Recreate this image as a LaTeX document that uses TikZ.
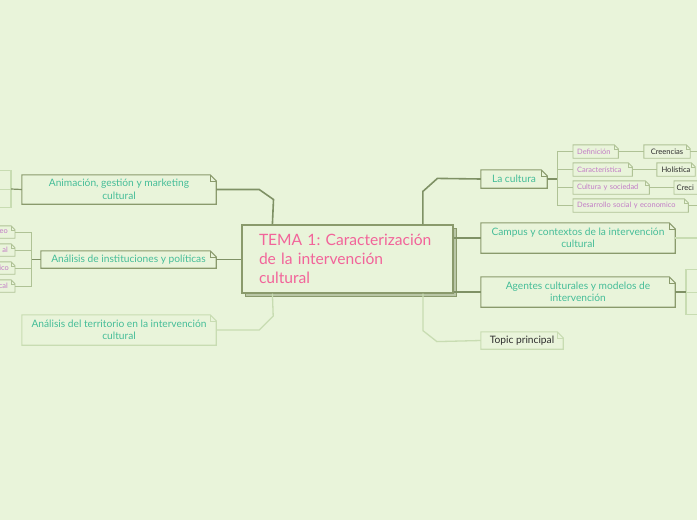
\documentclass[tikz,border=0pt]{standalone}
\usepackage{fontspec}
\setmainfont{Lato}
\frenchspacing
\usetikzlibrary{calc,shadows}
\definecolor{bg}{HTML}{E9F4DA}
\definecolor{olive}{HTML}{8A9A6C}
\definecolor{darkline}{HTML}{7F9165}
\definecolor{fadeline}{HTML}{C8DCB2}
\definecolor{subline}{HTML}{AFC295}
\definecolor{tealc}{HTML}{45BD98}
\definecolor{pinkc}{HTML}{F2649A}
\definecolor{purpc}{HTML}{C27CC6}
\definecolor{darkc}{HTML}{2E2E2E}
\definecolor{shadowc}{HTML}{B9C6A6}
\newcommand{\dogear}[3]{%
  \draw[#1] (#2.north west) -- ($(#2.north east)+(-#3,0)$) -- ($(#2.north east)+(0,-#3)$) -- (#2.south east) -- (#2.south west) -- cycle;
  \draw[#1,line width=0.5pt] ($(#2.north east)+(-#3,0)$) -- ($(#2.north east)+(-#3,-#3)$) -- ($(#2.north east)+(0,-#3)$);}
\tikzset{
  branch/.style={inner sep=0pt, text=tealc, align=center, font=\fontsize{10.2}{12.5}\selectfont},
  subn/.style={inner sep=0pt, text=purpc, minimum height=13pt, anchor=west, align=left, font=\fontsize{7.4}{8}\selectfont},
  leafn/.style={inner sep=0pt, text=darkc, minimum height=13pt, font=\fontsize{7.6}{8}\selectfont},
  bbox/.style={draw=olive, line width=1.1pt, line join=miter},
  fbox/.style={draw=fadeline, line width=1.1pt},
  sbox/.style={draw=subline, line width=0.9pt},
  conn/.style={draw=darkline, line width=1.6pt},
  fconn/.style={draw=fadeline, line width=1.3pt},
  bconn/.style={draw=subline, line width=1pt},
}
\begin{document}
\begin{tikzpicture}[x=1pt,y=1pt]
\useasboundingbox (0,0) rectangle (697,-520);
\fill[bg] (0,0) rectangle (697,-520);
\clip (0,0) rectangle (697,-520);

% central node
\node[draw=olive, line width=1.2pt, fill=bg, minimum width=211pt, minimum height=68pt,
      text width=177pt, inner xsep=17pt, inner ysep=0pt, align=left, text=pinkc,
      font=\fontsize{15.6}{19}\selectfont,
      copy shadow={shadow xshift=3pt, shadow yshift=-3pt, fill=shadowc, draw=olive, line width=1pt}]
      (main) at (347.5,-259) {TEMA 1: Caracterización\\de la intervención\\cultural};

% left branches
\node[branch, minimum width=194pt, minimum height=29pt] (anim) at (119,-189.5) {Animación, gestión y marketing\\cultural};
\dogear{bbox}{anim}{6}
\node[branch, minimum width=175pt, minimum height=17pt] (inst) at (128.5,-259.5) {Análisis de instituciones y políticas};
\dogear{bbox}{inst}{6}
\node[branch, minimum width=194pt, minimum height=30pt] (terr) at (119,-330) {Análisis del territorio en la intervención\\cultural};
\dogear{fbox}{terr}{6}

% off-canvas children of Animación
\node[inner sep=0pt, minimum width=40pt, minimum height=36pt, anchor=east] (ach) at (11,-189) {};
\draw[fbox] (ach.north west) rectangle (ach.south east);
\draw[fconn, line width=1pt] (ach.west) -- (ach.east);
\draw[conn, line width=1.2pt] (anim.west) -- (ach.east);

% children of Análisis de instituciones
\node[subn, anchor=east, text width=50pt, align=right, minimum height=12pt] (c1) at (15,-232) {eo\hspace*{7pt}};
\node[subn, anchor=east, text width=50pt, align=right, minimum height=12pt] (c2) at (15,-250) {al\hspace*{7pt}};
\node[subn, anchor=east, text width=50pt, align=right, minimum height=12pt] (c3) at (15,-268) {ico\hspace*{6pt}};
\node[subn, anchor=east, text width=50pt, align=right, minimum height=12pt] (c4) at (15,-286) {cal\hspace*{7pt}};
\foreach \c in {c1,c2,c3,c4}{\dogear{sbox}{\c}{4}}
\coordinate (ib) at (31,-259.5);
\draw[conn] (inst.west) -- (ib);
\foreach \c in {c1,c2,c3,c4}{\draw[bconn] (\c.east) -| (ib);}

% connectors to central
\draw[conn] (anim.east) -- ++(43,0) -- ++(14.3,-10) -- ($(main.north west)+(31,0)$);
\draw[conn] (inst.east) -- (main.west |- inst.east);
\draw[fconn] (terr.east) -- ++(43,0) -- ++(14,14) -- ($(main.south west)+(31,0)$);

% right branches
\node[branch, minimum width=66pt, minimum height=18pt] (cult) at (514,-179) {La cultura};
\dogear{bbox}{cult}{6}
\node[branch, minimum width=194pt, minimum height=30pt] (camp) at (578,-238) {Campus y contextos de la intervención\\cultural};
\dogear{bbox}{camp}{6}
\node[branch, minimum width=194pt, minimum height=30pt] (agen) at (578,-292) {Agentes culturales y modelos de\\intervención};
\dogear{bbox}{agen}{6}
\node[branch, text=darkc, minimum width=82pt, minimum height=17pt] (topic) at (522,-340.5) {Topic principal};
\dogear{fbox}{topic}{6}

\draw[conn] ($(main.north west)+(181.5,0)$) -- ++(0,33) -- ++(14.5,13) -- (cult.west);
\draw[conn] (main.east |- camp.west) -- (camp.west);
\draw[conn] (main.east |- agen.west) -- (agen.west);
\draw[fconn] ($(main.south west)+(181.5,0)$) -- ++(0,-37) -- ++(14,-11) -- (topic.west);

% La cultura children
\node[subn, text width=45pt] (def) at (573,-151.5) {\hspace*{4pt}Definición};
\node[subn, text width=59pt] (car) at (573,-169.5) {\hspace*{4pt}Característica};
\node[subn, text width=76pt] (cys) at (573,-187.5) {\hspace*{4pt}Cultura y sociedad};
\node[subn, text width=115pt] (des) at (573,-205.5) {\hspace*{4pt}Desarrollo social y economico};
\foreach \c in {def,car,cys,des}{\dogear{sbox}{\c}{4}}
\coordinate (cb) at (557,-179);
\draw[conn, line width=1.3pt] (cult.east) -- (cb);
\foreach \c in {def,car,cys,des}{\draw[bconn] (cb) |- (\c.west);}

% leaves
\node[leafn, minimum width=46pt] (cre) at (667,-151.5) {Creencias};
\node[leafn, minimum width=38pt] (hol) at (676,-169.5) {Holística};
\node[leafn, anchor=west, text width=40pt, align=left, inner xsep=0pt] (crec) at (674,-187.5) {\hspace*{2.5pt}Creci};
\foreach \c in {cre,hol,crec}{\dogear{sbox}{\c}{4}}
\draw[bconn] (def.east) -- (cre.west);
\draw[bconn] (car.east) -- (hol.west);
\draw[bconn] (cys.east) -- (crec.west);
\coordinate (creend) at (705,-151.5);
\coordinate (desend) at (705,-205.5);
\draw[bconn] (cre.east) -- (creend);
\draw[bconn] (des.east) -- (desend);

% Campus and Agentes off-canvas continuations
\coordinate (campend) at (705,-238);
\draw[fconn] (camp.east) -- (campend);
\node[inner sep=0pt, minimum width=40pt, minimum height=44pt, anchor=west] (agch) at (686,-292) {};
\draw[fbox] (agch.north east) rectangle (agch.south west);
\draw[fconn, line width=1pt] (agch.west) -- (agch.east);
\draw[conn, line width=1.2pt] (agen.east) -- (agch.west);
\end{tikzpicture}
\end{document}
